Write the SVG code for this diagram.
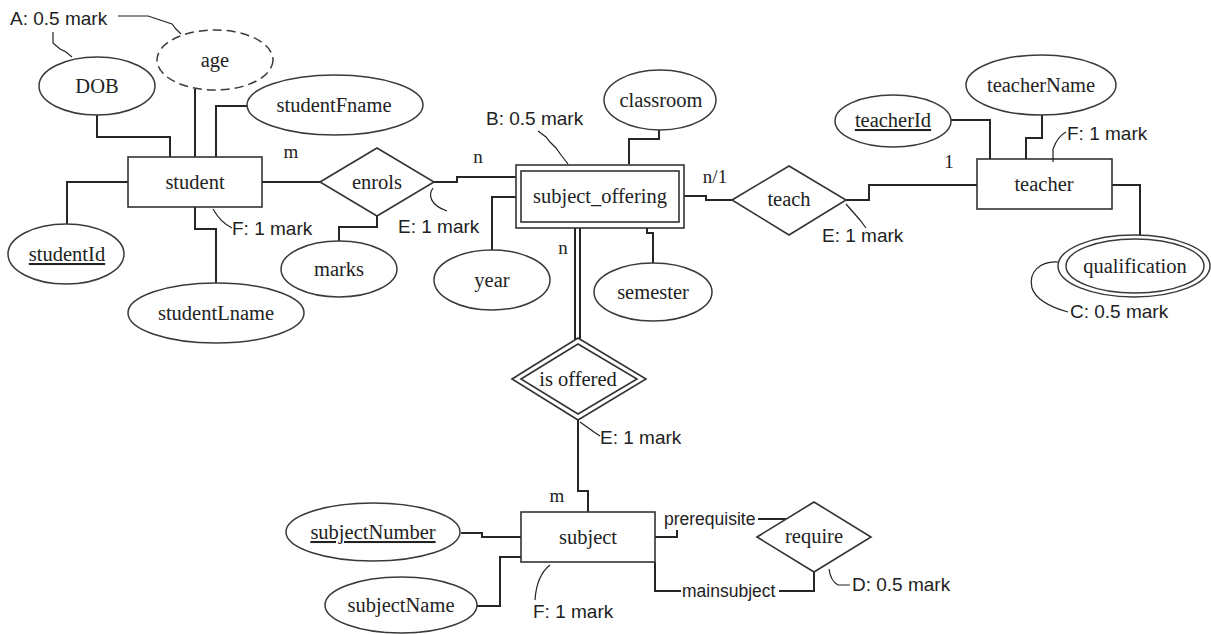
<svg xmlns="http://www.w3.org/2000/svg" width="1211" height="634" viewBox="0 0 1211 634">
<style>
.bg{fill:#ffffff}
.ell{fill:#ffffff;stroke:#3a3a3a;stroke-width:1.5}
.box{fill:#ffffff;stroke:#333333;stroke-width:1.6}
.con{fill:none;stroke:#262626;stroke-width:2}
.note{fill:none;stroke:#222222;stroke-width:1.2}
.lbl{font-family:"Liberation Serif","Times New Roman",serif;font-size:20.5px;fill:#222222;text-anchor:middle}
.card{font-family:"Liberation Serif","Times New Roman",serif;font-size:19px;fill:#222222;text-anchor:middle}
.ann{font-family:"Liberation Sans",Arial,sans-serif;font-size:19px;fill:#222222}
.role{font-family:"Liberation Sans",Arial,sans-serif;font-size:17.5px;fill:#222222}
.key{text-decoration:underline}
</style>
<rect class="bg" x="0" y="0" width="1211" height="634"/>

<g id="connectors">
  <!-- student attributes -->
  <path class="con" d="M97,115 V137 H170 V157"/>
  <path class="con" d="M195,89 V157"/>
  <path class="con" d="M247,106 H216 V157"/>
  <path class="con" d="M128,182 H67 V224"/>
  <path class="con" d="M195,207 V229 H216 V283"/>
  <!-- student - enrols - subject_offering -->
  <path class="con" d="M262,182 H320"/>
  <path class="con" d="M434,182 H457 V177 H516"/>
  <path class="con" d="M377,216 V227 H339 V241"/>
  <!-- subject_offering attributes -->
  <path class="con" d="M659,130 V139 H629 V164"/>
  <path class="con" d="M521,197 H492 V250"/>
  <path class="con" d="M647,223 V233 H653 V263"/>
  <!-- subject_offering - teach - teacher -->
  <path class="con" d="M684,196 H706 V200 H732"/>
  <path class="con" d="M846,200 H869 V185 H977"/>
  <!-- teacher attributes -->
  <path class="con" d="M951,120 H990 V159"/>
  <path class="con" d="M1042,115 V138 H1026 V159"/>
  <path class="con" d="M1112,185 H1140 V235"/>
  <!-- subject_offering - is offered (double) -->
  <path class="con" d="M575,228 V340"/>
  <path class="con" d="M580,228 V340"/>
  <!-- is offered - subject -->
  <path class="con" d="M578,420 V491 H588 V512"/>
  <!-- subject attributes -->
  <path class="con" d="M461,533 H482 V537 H521"/>
  <path class="con" d="M477,606 H500 V557 H521"/>
  <!-- subject - require -->
  <path class="con" d="M655,537 H677 V530"/>
  <path class="con" d="M758,519 H787"/>
  <path class="con" d="M655,562 V591 H681"/>
  <path class="con" d="M779,591 H814 V572"/>
</g>

<g id="student">
  <rect class="box" x="128" y="157" width="134" height="50"/>
  <text class="lbl" x="195" y="189">student</text>
</g>
<g id="DOB">
  <ellipse class="ell" cx="97" cy="86" rx="58" ry="29"/>
  <text class="lbl" x="97" y="93">DOB</text>
</g>
<g id="age">
  <ellipse class="ell" cx="215" cy="60" rx="58" ry="30" stroke-dasharray="9,5"/>
  <text class="lbl" x="215" y="67">age</text>
</g>
<g id="studentFname">
  <ellipse class="ell" cx="335" cy="105" rx="88" ry="30"/>
  <text class="lbl" x="334" y="112">studentFname</text>
</g>
<g id="studentId">
  <ellipse class="ell" cx="66" cy="254" rx="58" ry="30"/>
  <text class="lbl key" x="67" y="261">studentId</text>
</g>
<g id="studentLname">
  <ellipse class="ell" cx="216" cy="313" rx="88" ry="30"/>
  <text class="lbl" x="216" y="320">studentLname</text>
</g>
<g id="enrols">
  <polygon class="box" points="320,182 377,148 434,182 377,216"/>
  <text class="lbl" x="377" y="189">enrols</text>
</g>
<g id="marks">
  <ellipse class="ell" cx="339" cy="269" rx="58" ry="28"/>
  <text class="lbl" x="339" y="276">marks</text>
</g>
<g id="subject_offering">
  <rect class="box" x="516" y="165" width="168" height="63"/>
  <rect class="box" x="521" y="171" width="158" height="51"/>
  <text class="lbl" x="600" y="203">subject_offering</text>
</g>
<g id="classroom">
  <ellipse class="ell" cx="660" cy="100" rx="56" ry="30"/>
  <text class="lbl" x="661" y="107">classroom</text>
</g>
<g id="year">
  <ellipse class="ell" cx="492" cy="280" rx="58" ry="30"/>
  <text class="lbl" x="492" y="287">year</text>
</g>
<g id="semester">
  <ellipse class="ell" cx="653" cy="292" rx="59" ry="29"/>
  <text class="lbl" x="653" y="299">semester</text>
</g>
<g id="teach">
  <polygon class="box" points="732,200 789,166 846,200 789,235"/>
  <text class="lbl" x="789" y="206">teach</text>
</g>
<g id="teacher">
  <rect class="box" x="977" y="159" width="135" height="50"/>
  <text class="lbl" x="1044" y="191">teacher</text>
</g>
<g id="teacherId">
  <ellipse class="ell" cx="893" cy="121" rx="58" ry="26"/>
  <text class="lbl key" x="893" y="127">teacherId</text>
</g>
<g id="teacherName">
  <ellipse class="ell" cx="1041" cy="85" rx="75" ry="30"/>
  <text class="lbl" x="1041" y="92">teacherName</text>
</g>
<g id="qualification">
  <ellipse class="ell" cx="1134" cy="266" rx="76" ry="31"/>
  <ellipse class="ell" cx="1135" cy="266" rx="69" ry="27"/>
  <text class="lbl" x="1135" y="273">qualification</text>
</g>
<g id="is_offered">
  <polygon class="box" points="512,379 578,338 646,379 578,420"/>
  <polygon class="box" points="521,379 578,344 637,379 578,414"/>
  <text class="lbl" x="578" y="386">is offered</text>
</g>
<g id="subject">
  <rect class="box" x="521" y="512" width="134" height="50"/>
  <text class="lbl" x="588" y="544">subject</text>
</g>
<g id="subjectNumber">
  <ellipse class="ell" cx="373" cy="532" rx="87" ry="29"/>
  <text class="lbl key" x="373" y="539">subjectNumber</text>
</g>
<g id="subjectName">
  <ellipse class="ell" cx="401" cy="605" rx="76" ry="28"/>
  <text class="lbl" x="401" y="612">subjectName</text>
</g>
<g id="require">
  <polygon class="box" points="757,537 814,502 871,537 814,572"/>
  <text class="lbl" x="814" y="543">require</text>
</g>

<g id="cardinalities">
  <text class="card" x="291" y="158">m</text>
  <text class="card" x="478" y="163">n</text>
  <text class="card" x="715" y="183">n/1</text>
  <text class="card" x="949" y="168">1</text>
  <text class="card" x="563" y="254">n</text>
  <text class="card" x="557" y="502">m</text>
</g>

<g id="roles">
  <text class="role" x="664" y="525">prerequisite</text>
  <text class="role" x="682" y="597">mainsubject</text>
</g>

<g id="annotations">
  <text class="ann" x="10" y="25">A: 0.5 mark</text>
  <path class="note" d="M118,16 H148 L160,20 L172,24 L176,29 L181,34"/>
  <path class="note" d="M53,32 V43 L60,49 L66,52 L72,57"/>
  <text class="ann" x="486" y="125">B: 0.5 mark</text>
  <path class="note" d="M538,131 L546,137 L550,142 L556,148 L561,155 L568,164"/>
  <text class="ann" x="1070" y="318">C: 0.5 mark</text>
  <path class="note" d="M1058,262 C1040,261 1028,272 1032,288 C1036,300 1050,307 1068,312"/>
  <text class="ann" x="852" y="591">D: 0.5 mark</text>
  <path class="note" d="M829,569 C830,576 832,582 838,585 H850"/>
  <text class="ann" x="398" y="233">E: 1 mark</text>
  <path class="note" d="M433,188 C428,195 430,205 447,211"/>
  <text class="ann" x="822" y="242">E: 1 mark</text>
  <path class="note" d="M846,204 L853,212 L860,220 L866,228"/>
  <text class="ann" x="600" y="444">E: 1 mark</text>
  <path class="note" d="M580,422 L587,427 L594,432 L600,436"/>
  <text class="ann" x="232" y="235">F: 1 mark</text>
  <path class="note" d="M213,209 C218,218 224,224 232,228"/>
  <text class="ann" x="1067" y="140">F: 1 mark</text>
  <path class="note" d="M1053,162 V149 C1056,141 1060,135 1066,132"/>
  <text class="ann" x="533" y="618">F: 1 mark</text>
  <path class="note" d="M550,565 C541,572 536,585 535,600"/>
</g>
</svg>
